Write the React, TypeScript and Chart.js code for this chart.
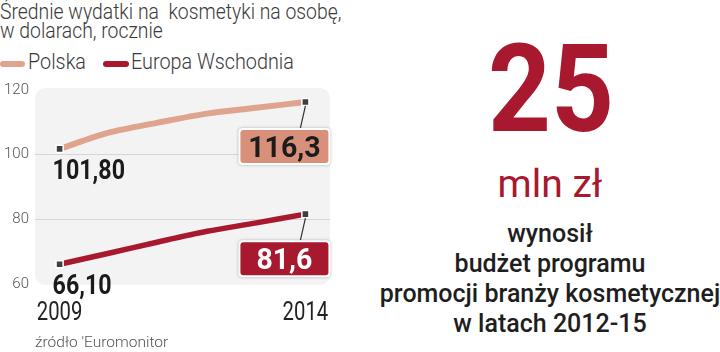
import React, { useEffect, useRef } from "react";
import { Chart, registerables } from "chart.js";

Chart.register(...registerables);

// ---------- data ----------
const years = ["2009", "2010", "2011", "2012", "2013", "2014"];
const shownYears = ["2009", "2014"];
const polska = [101.8, 106.8, 109.9, 112.7, 114.5, 116.3];
const europa = [66.1, 69.5, 73.0, 76.3, 78.9, 81.6];
const yTicks = [60, 80, 100, 120];
const seriesNames = ["Polska", "Europa Wschodnia"];
const startLabels = ["101,80", "66,10"];
const endLabels = ["116,3", "81,6"];

// ---------- styles ----------
const LINE_COLORS = ["#dfa48e", "#a8192f"];
const BOX_FILL = ["#d8907a", "#a6192e"];
const BOX_TEXT = ["#1c1c1c", "#ffffff"];
const RED = "#a8182e";

function roundRectPath(ctx: CanvasRenderingContext2D, x: number, y: number, w: number, h: number, r: number) {
  ctx.beginPath();
  ctx.moveTo(x + r, y);
  ctx.lineTo(x + w - r, y);
  ctx.quadraticCurveTo(x + w, y, x + w, y + r);
  ctx.lineTo(x + w, y + h - r);
  ctx.quadraticCurveTo(x + w, y + h, x + w - r, y + h);
  ctx.lineTo(x + r, y + h);
  ctx.quadraticCurveTo(x, y + h, x, y + h - r);
  ctx.lineTo(x, y + r);
  ctx.quadraticCurveTo(x, y, x + r, y);
  ctx.closePath();
}

const bgPlugin = {
  id: "bgPanel",
  beforeDraw(chart: any) {
    const { ctx, chartArea } = chart;
    ctx.save();
    ctx.fillStyle = "#f3f3f3";
    roundRectPath(ctx, chartArea.left, chartArea.top - 2, chartArea.right - chartArea.left, chartArea.bottom - chartArea.top + 3, 12);
    ctx.fill();
    ctx.restore();
  },
};

const labelPlugin = {
  id: "valueLabels",
  afterDatasetsDraw(chart: any) {
    const ctx: CanvasRenderingContext2D = chart.ctx;
    chart.data.datasets.forEach((_ds: any, d: number) => {
      const meta = chart.getDatasetMeta(d);
      const p0 = meta.data[0];
      const pN = meta.data[meta.data.length - 1];

      // start value
      ctx.save();
      ctx.font = "bold 28px Roboto";
      ctx.fillStyle = "#1a1a1a";
      ctx.textBaseline = "alphabetic";
      ctx.translate(p0.x - 7, p0.y + 30);
      ctx.scale(0.83, 1);
      ctx.fillText(startLabels[d], 0, 0);
      ctx.restore();

      // end box
      const bw = 92, bh = 37;
      const bx = pN.x + 25 - bw;
      const by = pN.y + 26;

      ctx.save();
      ctx.strokeStyle = "#333";
      ctx.lineWidth = 1.2;
      ctx.beginPath();
      ctx.moveTo(pN.x, pN.y + 4);
      ctx.lineTo(pN.x - 5, by);
      ctx.stroke();
      ctx.restore();

      ctx.save();
      ctx.shadowColor = "rgba(0,0,0,0.3)";
      ctx.shadowBlur = 3;
      ctx.fillStyle = "#ffffff";
      roundRectPath(ctx, bx, by, bw, bh, 4);
      ctx.fill();
      ctx.restore();

      ctx.save();
      ctx.fillStyle = BOX_FILL[d];
      roundRectPath(ctx, bx + 2, by + 2, bw - 4, bh - 4, 3);
      ctx.fill();
      ctx.font = "bold 30px Roboto";
      ctx.fillStyle = BOX_TEXT[d];
      ctx.textAlign = "center";
      ctx.textBaseline = "alphabetic";
      ctx.translate(bx + bw / 2, by + 29);
      ctx.scale(0.95, 1);
      ctx.fillText(endLabels[d], 0, 0);
      ctx.restore();
    });

    // category labels (only first and last year)
    const xs = chart.scales.x;
    ctx.save();
    ctx.font = "400 26px Roboto";
    ctx.fillStyle = "#222";
    ctx.textAlign = "center";
    ctx.textBaseline = "alphabetic";
    shownYears.forEach((yr) => {
      const i = years.indexOf(yr);
      const px = xs.getPixelForValue(i);
      ctx.save();
      ctx.translate(px, chart.chartArea.bottom + 36);
      ctx.scale(0.78, 1);
      ctx.fillText(yr, 0, 0);
      ctx.restore();
    });
    ctx.restore();
  },
};

function Txt(props: {
  x: number; y: number; size: number; weight?: number; color?: string;
  center?: boolean; sx?: number; children: React.ReactNode;
}) {
  const { x, y, size, weight = 400, color = "#222", center = false, sx = 1, children } = props;
  const style: React.CSSProperties = {
    position: "absolute",
    left: x,
    top: y - 0.842 * size,
    fontFamily: "Roboto, 'Noto Sans', sans-serif",
    fontSize: size,
    fontWeight: weight,
    lineHeight: size + "px",
    color,
    whiteSpace: "pre",
    transform: center ? `translateX(-50%) scaleX(${sx})` : `scaleX(${sx})`,
    transformOrigin: center ? "50% 50%" : "0 50%",
  };
  return <div style={style}>{children}</div>;
}

export default function App() {
  const canvasRef = useRef<HTMLCanvasElement | null>(null);

  useEffect(() => {
    if (!canvasRef.current) return;
    const chart = new Chart(canvasRef.current, {
      type: "line",
      data: {
        labels: years,
        datasets: [polska, europa].map((vals, d) => ({
          label: seriesNames[d],
          data: vals,
          borderColor: LINE_COLORS[d],
          borderWidth: d === 0 ? 6 : 5.5,
          tension: 0.3,
          fill: false,
          pointStyle: "rect",
          pointRadius: vals.map((_, i) => (i === 0 || i === vals.length - 1 ? 5 : 0)),
          pointBackgroundColor: "#3f3f3f",
          pointBorderColor: "#ffffff",
          pointBorderWidth: 1.5,
        })),
      },
      options: {
        animation: false,
        responsive: true,
        maintainAspectRatio: false,
        layout: { padding: { top: 90, bottom: 68, left: 0, right: 10 } },
        plugins: {
          legend: { display: false },
          tooltip: { enabled: false },
          title: { display: false },
        },
        scales: {
          x: { type: "category", offset: true, display: false },
          y: {
            min: yTicks[0],
            max: yTicks[yTicks.length - 1],
            afterFit: (s: any) => { s.width = 35; },
            afterBuildTicks: (s: any) => { s.ticks = yTicks.map((v) => ({ value: v })); },
            border: { display: false },
            grid: {
              drawTicks: false,
              lineWidth: 1,
              color: (c: any) =>
                c.tick && c.tick.value !== yTicks[0] && c.tick.value !== yTicks[yTicks.length - 1]
                  ? "#d6d6d6"
                  : "rgba(0,0,0,0)",
            },
            ticks: {
              padding: 6,
              color: "#555",
              font: { family: "Roboto", size: 15, weight: "300" as any },
            },
          },
        },
      },
      plugins: [bgPlugin, labelPlugin],
    } as any);
    return () => chart.destroy();
  }, []);

  return (
    <div style={{ position: "absolute", left: 0, top: 0, width: 720, height: 352, background: "#fff", overflow: "hidden" }}>
      {/* title */}
      <Txt x={0} y={20} size={22} weight={300} color="#3a3a3a" sx={0.88}>Średnie wydatki na  kosmetyki na osobę,</Txt>
      <Txt x={0} y={39} size={22} weight={300} color="#3a3a3a" sx={0.88}>w dolarach, rocznie</Txt>

      {/* legend */}
      <div style={{ position: "absolute", left: 0, top: 61, width: 25, height: 6, borderRadius: 3, background: LINE_COLORS[0] }} />
      <Txt x={28} y={70} size={22} weight={300} color="#3a3a3a" sx={0.9}>{seriesNames[0]}</Txt>
      <div style={{ position: "absolute", left: 103, top: 61, width: 26, height: 6, borderRadius: 3, background: LINE_COLORS[1] }} />
      <Txt x={131} y={70} size={22} weight={300} color="#3a3a3a" sx={0.9}>{seriesNames[1]}</Txt>

      {/* chart */}
      <div style={{ position: "absolute", left: 0, top: 0, width: 340, height: 352 }}>
        <canvas ref={canvasRef} />
      </div>

      {/* source */}
      <Txt x={35} y={348} size={15.5} weight={300} color="#555">źródło 'Euromonitor</Txt>

      {/* right side */}
      <Txt x={551} y={132} size={122} weight={700} color={RED} center sx={0.9}>25</Txt>
      <Txt x={550} y={198} size={39} weight={400} color={RED} center>mln zł</Txt>
      <Txt x={550} y={242} size={25} weight={500} color="#1e1e1e" center>wynosił</Txt>
      <Txt x={550} y={272} size={25} weight={500} color="#1e1e1e" center>budżet programu</Txt>
      <Txt x={550} y={302} size={25} weight={500} color="#1e1e1e" center>promocji branży kosmetycznej</Txt>
      <Txt x={550} y={332} size={25} weight={500} color="#1e1e1e" center>w latach 2012-15</Txt>
    </div>
  );
}
